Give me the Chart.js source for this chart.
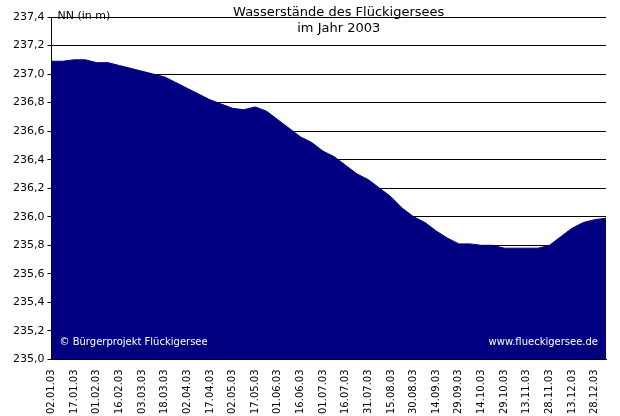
<!DOCTYPE html>
<html><head><meta charset="utf-8">
<script src="https://cdn.jsdelivr.net/npm/chart.js@4"></script>
<style>html,body{margin:0;padding:0;background:#fff}#w{width:620px;height:416px}</style>
</head><body><div id="w"><canvas id="c"></canvas></div>
<script>
const tickLabels=["02.01.03","17.01.03","01.02.03","16.02.03","03.03.03","18.03.03","02.04.03","17.04.03","02.05.03","17.05.03","01.06.03","16.06.03","01.07.03","16.07.03","31.07.03","15.08.03","30.08.03","14.09.03","29.09.03","14.10.03","29.10.03","13.11.03","28.11.03","13.12.03","28.12.03"];
const levels=[237.09,237.09,237.10,237.10,237.08,237.08,237.06,237.04,237.02,237.00,236.98,236.94,236.90,236.86,236.82,236.79,236.76,236.75,236.77,236.74,236.68,236.62,236.56,236.52,236.46,236.42,236.36,236.30,236.26,236.20,236.14,236.06,236.00,235.96,235.90,235.85,235.81,235.81,235.80,235.80,235.78,235.78,235.78,235.78,235.80,235.86,235.92,235.96,235.98,235.99];
const labels=levels.map((v,i)=>i%2===0&&tickLabels[i/2]?tickLabels[i/2]:"");
const texts={
 id:'texts',
 afterDraw(ch){const c=ch.ctx,a=ch.chartArea;c.save();
  c.fillStyle='#000';c.font='13px "DejaVu Sans"';c.textAlign='center';c.textBaseline='top';
  const cx=(a.left+a.right)/2+10;c.fillText('Wasserstände des Flückigersees',cx,6);c.fillText('im Jahr 2003',cx,22);
  c.font='11px "DejaVu Sans"';c.textAlign='left';c.fillText('NN (in m)',a.left+6,11);
  c.fillStyle='#fff';c.font='10px "DejaVu Sans"';c.textBaseline='alphabetic';
  c.fillText('© Bürgerprojekt Flückigersee',a.left+8,a.bottom-14);
  c.textAlign='right';c.fillText('www.flueckigersee.de',a.right-8,a.bottom-14);
  c.restore();}
};
new Chart(document.getElementById('c'),{type:'line',
 data:{labels,datasets:[{data:levels,fill:'start',backgroundColor:'#000080',borderColor:'#000080',borderWidth:1,pointRadius:0,tension:0}]},
 options:{responsive:true,maintainAspectRatio:false,animation:false,
  layout:{padding:{top:17,right:12,left:10}},
  plugins:{legend:{display:false},tooltip:{enabled:false}},
  scales:{
   x:{offset:false,grid:{display:false,drawTicks:true},border:{color:'#000'},
      ticks:{autoSkip:false,maxRotation:90,minRotation:90,color:'#000',font:{family:'DejaVu Sans',size:10},padding:2}},
   y:{min:235,max:237.4,border:{color:'#000'},grid:{color:'#000',drawTicks:true,tickLength:4},
      ticks:{stepSize:0.2,color:'#000',font:{family:'DejaVu Sans',size:11},callback:v=>v.toFixed(1).replace('.',',')}}}},
 plugins:[texts]});
</script></body></html>
